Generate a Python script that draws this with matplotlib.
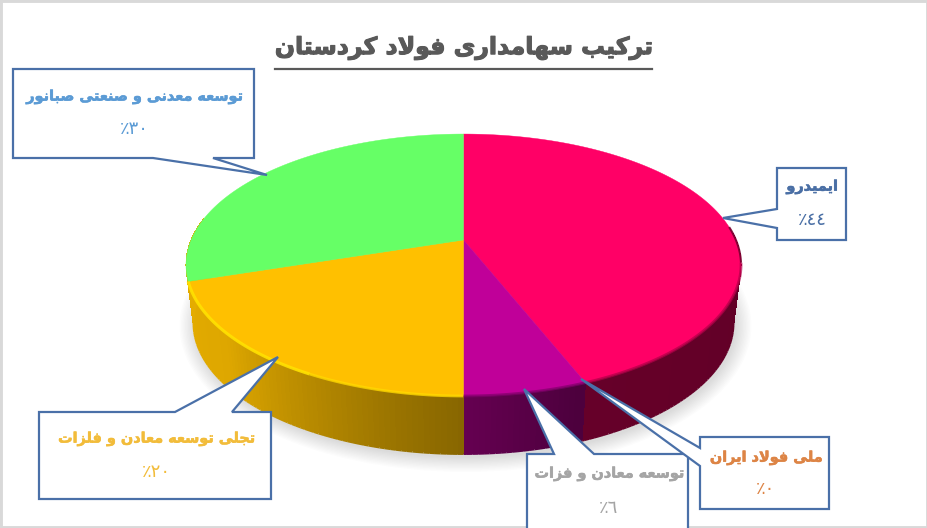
import numpy as np
import matplotlib
matplotlib.use('Agg')
import matplotlib.pyplot as plt
import matplotlib.patheffects as pe
from matplotlib.collections import LineCollection
from matplotlib.patches import Ellipse, Polygon, Rectangle

# Data, clockwise from 12 o'clock
title = 'ترکیب سهامداری فولاد کردستان'
names = ['ایمیدرو', 'ملی فولاد ایران', 'توسعه معادن و فزات',
         'تجلی توسعه معادن و فلزات', 'توسعه معدنی و صنعتی صبانور']
values = [44, 0, 6, 20, 30]
slice_colors = ['#FF0066', '#E0559A', '#C00099', '#FFC000', '#66FF66']
text_colors = ['#4A6FA5', '#DD8445', '#A5A5A5', '#F2BC3A', '#5B9BD5']

# Presentation forms: isolated, final, initial, medial
FORMS = {
    'ا': (0xFE8D, 0xFE8E), 'د': (0xFEA9, 0xFEAA), 'ر': (0xFEAD, 0xFEAE),
    'ز': (0xFEAF, 0xFEB0), 'و': (0xFEED, 0xFEEE),
    'ب': (0xFE8F, 0xFE90, 0xFE91, 0xFE92), 'ت': (0xFE95, 0xFE96, 0xFE97, 0xFE98),
    'ج': (0xFE9D, 0xFE9E, 0xFE9F, 0xFEA0), 'س': (0xFEB1, 0xFEB2, 0xFEB3, 0xFEB4),
    'ص': (0xFEB9, 0xFEBA, 0xFEBB, 0xFEBC), 'ع': (0xFEC9, 0xFECA, 0xFECB, 0xFECC),
    'ف': (0xFED1, 0xFED2, 0xFED3, 0xFED4), 'ک': (0xFB8E, 0xFB8F, 0xFB90, 0xFB91),
    'ل': (0xFEDD, 0xFEDE, 0xFEDF, 0xFEE0), 'م': (0xFEE1, 0xFEE2, 0xFEE3, 0xFEE4),
    'ن': (0xFEE5, 0xFEE6, 0xFEE7, 0xFEE8), 'ه': (0xFEE9, 0xFEEA, 0xFEEB, 0xFEEC),
    'ی': (0xFBFC, 0xFBFD, 0xFBFE, 0xFBFF),
}


def shape_word(word):
    out = []
    i = 0
    prev_joins = False
    while i < len(word):
        ch = word[i]
        if ch == 'ل' and i + 1 < len(word) and word[i + 1] == 'ا':
            out.append(chr(0xFEFC if prev_joins else 0xFEFB))
            prev_joins = False
            i += 2
            continue
        forms = FORMS[ch]
        next_ok = i + 1 < len(word) and len(forms) == 4
        if prev_joins and next_ok:
            out.append(chr(forms[3]))
        elif prev_joins:
            out.append(chr(forms[1]))
        elif next_ok:
            out.append(chr(forms[2]))
        else:
            out.append(chr(forms[0]))
        prev_joins = next_ok
        i += 1
    return ''.join(out)


def shape(text):
    # matplotlib does no Arabic shaping, so lay it out by hand
    return ' '.join(shape_word(w)[::-1] for w in text.split(' ')[::-1])


def percent(value):
    digits = '۰۱۲۳٤٥٦۷۸۹'
    return '٪' + ''.join(digits[int(d)] for d in str(value))


# Pie geometry in pixels, with the perspective of the tilted disc
cx, cy = 463.5, 240.0
a, b, k = 272.4, 126.2, -0.191
depth, shrink = 58.0, 0.973


def rim(theta):
    t = np.radians(theta)
    u, v = np.sin(t), -np.cos(t)
    d = 1 + k * v
    return cx + a * u / d, cy + b * v / d


def lower_rim(theta):
    x, y = rim(theta)
    return cx + (x - cx) * shrink, y + depth


def shade(theta):
    return np.interp(theta, [90, 160, 180, 193, 230, 270], [.38, .40, .53, .61, .87, .9])


fig = plt.figure(figsize=(9.28, 5.28), dpi=100)
ax = fig.add_axes([0, 0, 1, 1])
ax.set_xlim(0, 928)
ax.set_ylim(528, 0)
ax.axis('off')
ax.add_patch(Rectangle((0, 0), 928, 528, fc='white', ec='#D9D9D9', lw=3.5, zorder=0))

# Soft shadow under the disc
for i in range(12):
    ax.add_patch(Ellipse((cx + 2, 326), 2 * (270 + 16 - i * 1.4), 2 * (131 + 15 - i * 1.3),
                         fc='black', ec='none', alpha=0.012, zorder=1))

edges = np.cumsum([0] + values) * 3.6

# Side wall, the orange wall also runs on behind the green slice
for start, end, color in zip(edges[:-1], edges[1:], slice_colors):
    if end <= start or start >= 252:
        continue
    if color == '#FFC000':
        end = 280
    base = np.array(matplotlib.colors.to_rgb(color))
    segs, seg_colors = [], []
    for t0 in np.arange(start, end, 1.0):
        t1 = min(t0 + 1.0, end)
        if t1 < 88:
            continue
        c = base * shade((t0 + t1) / 2)
        ax.add_patch(Polygon([rim(t0), rim(t1), (lower_rim(t1)[0], lower_rim(t1)[1] - 0.7),
                              (lower_rim(t0)[0], lower_rim(t0)[1] - 0.7)], closed=True,
                             fc=c, ec='none', antialiased=False, zorder=2))
        segs.append([lower_rim(t0), lower_rim(t1)])
        seg_colors.append(c)
    ax.add_collection(LineCollection(segs, colors=seg_colors, linewidths=1.4, zorder=2.5))

# Top face
for start, end, color in zip(edges[:-1], edges[1:], slice_colors):
    if end <= start:
        continue
    th = np.linspace(start, end, 200)
    xs, ys = rim(th)
    ax.fill(np.r_[cx, xs], np.r_[cy, ys], fc=color, ec=color, lw=0.3, zorder=3)

# Bevel along the front of the rim
th = np.linspace(208, 252, 100)
ax.plot(*rim(th), color='#FFE100', lw=2.2, alpha=0.9, zorder=4, solid_capstyle='butt')
th = np.linspace(180, 208, 100)
ax.plot(*rim(th), color='#FFD800', lw=2.0, alpha=0.8, zorder=4, solid_capstyle='butt')
th = np.linspace(158.4, 180, 60)
ax.plot(*rim(th), color='#80006A', lw=2.0, alpha=0.7, zorder=4, solid_capstyle='butt')
th = np.linspace(100, 158.4, 120)
ax.plot(*rim(th), color='#B00048', lw=2.0, alpha=0.7, zorder=4, solid_capstyle='butt')
th = np.linspace(84, 100, 60)
ax.plot(*rim(th), color='#7A0030', lw=1.5, alpha=0.9, zorder=4, solid_capstyle='butt')

# Callouts: outline with the pointer built in, in the order they overlap
line_color = '#4A70A8'
callouts = [
    [(777, 168), (846, 168), (846, 240), (777, 240), (777, 228), (723, 218), (777, 209)],
    [(700, 437), (829, 437), (829, 509), (700, 509), (700, 466), (581, 379), (700, 448)],
    [(527, 454), (554, 454), (524, 389), (594, 454), (688, 454), (688, 540), (527, 540)],
    [(39, 412), (175, 412), (278, 357), (232, 412), (271, 412), (271, 499), (39, 499)],
    [(13, 69), (254, 69), (254, 158), (213, 158), (267, 175), (153, 158), (13, 158)],
]
text_pos = [(812, 187, 220), (766, 458, 489), (609, 474, 508), (156, 439, 472), (134, 97, 129)]
draw_order = [2, 1, 0, 3, 4]

for z, i in enumerate(draw_order):
    ax.add_patch(Polygon(callouts[i], closed=True, fc='white', ec=line_color, lw=1.6, zorder=5 + z,
                         joinstyle='miter'))
    x, y1, y2 = text_pos[i]
    t = ax.text(x, y1, shape(names[i]), color=text_colors[i], fontsize=10.4, fontweight='bold',
                ha='center', va='center', zorder=5 + z)
    t.set_path_effects([pe.withStroke(linewidth=0.4, foreground=text_colors[i])])
    ax.text(x, y2, percent(values[i]), color=text_colors[i], fontsize=13,
            ha='center', va='center', zorder=5 + z)

# Title with its underline
t = ax.text(464, 48, shape(title), color='#595959', fontsize=17, fontweight='bold',
            ha='center', va='center', zorder=5)
t.set_path_effects([pe.withStroke(linewidth=0.8, foreground='#595959')])
ax.plot([275, 652], [69, 69], color='#595959', lw=1.6, zorder=5)

fig.savefig('out.png', dpi=100)
